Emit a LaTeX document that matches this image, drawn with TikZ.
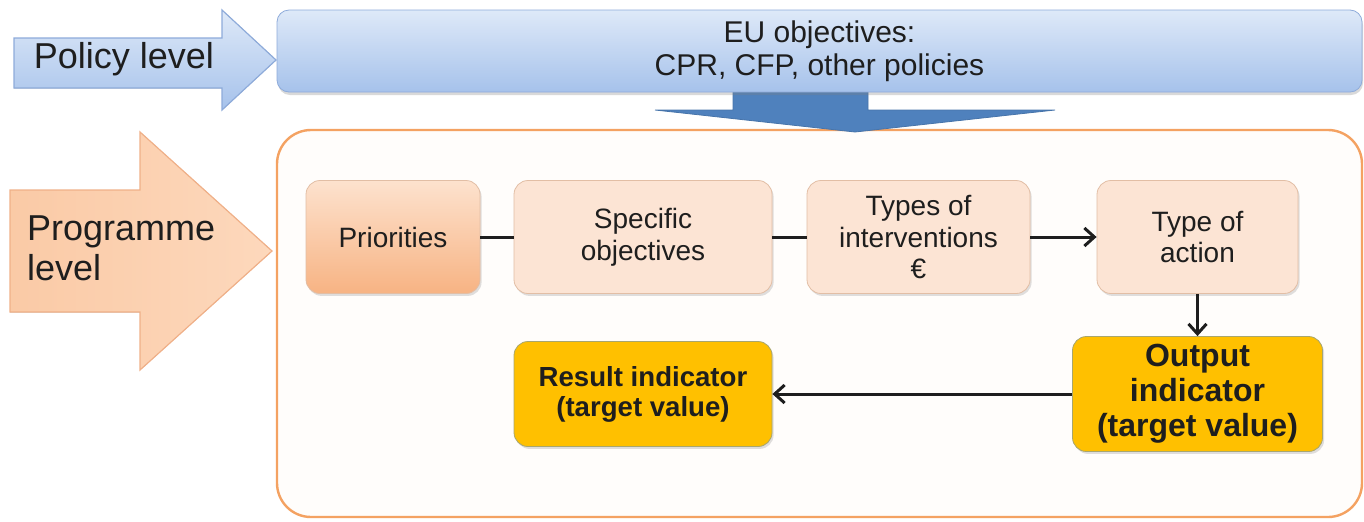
\documentclass[tikz,border=0pt]{standalone}
\usepackage{fontspec}
\setmainfont{Liberation Sans}
\usepackage{tikz}
\usetikzlibrary{arrows.meta, shadows}
\definecolor{PolicyLight}{HTML}{DEE9F8}
\definecolor{PolicyBlue}{HTML}{A6C2EB}
\definecolor{PolicyEdge}{HTML}{8EABDA}
\definecolor{DownBlue}{HTML}{4F81BD}
\definecolor{PeachLight}{HTML}{FDD8BC}
\definecolor{PeachFill}{HTML}{FACAA6}
\definecolor{PeachEdge}{HTML}{F0B088}
\definecolor{FrameOrange}{HTML}{F4A262}
\definecolor{FrameFill}{HTML}{FFFDFB}
\definecolor{BoxPeach}{HTML}{FCE4D4}
\definecolor{BoxEdge}{HTML}{E2BEA5}
\definecolor{PrioTop}{HTML}{FDE2CE}
\definecolor{PrioBottom}{HTML}{F7B383}
\definecolor{GoldFill}{HTML}{FFC000}
\definecolor{GoldEdge}{HTML}{A8A66E}
\definecolor{InkDark}{HTML}{1E1E1E}
\tikzset{
  % Box styles
  levelbox/.style={rectangle, rounded corners=6pt, draw=PolicyEdge, top color=PolicyLight, bottom color=PolicyBlue, text=InkDark, align=center, font=\fontsize{15}{16.5}\selectfont, drop shadow={shadow xshift=0.5pt, shadow yshift=-1.5pt, opacity=0.3}},
  framebox/.style={rectangle, rounded corners=17pt, draw=FrameOrange, line width=1.2pt, fill=FrameFill},
  stepbox/.style={rectangle, rounded corners=7pt, draw=BoxEdge, fill=BoxPeach, text=InkDark, minimum height=56.5pt, font=\fontsize{14}{15.75}\selectfont, align=center, drop shadow={shadow xshift=0.8pt, shadow yshift=-1.2pt, opacity=0.25}},
  priobox/.style={stepbox, fill=none, top color=PrioTop, bottom color=PrioBottom},
  goldbox/.style={rectangle, rounded corners=7pt, draw=GoldEdge, fill=GoldFill, text=InkDark, align=center, font=\bfseries, drop shadow={shadow xshift=0.8pt, shadow yshift=-1.2pt, opacity=0.25}},
  % Arrow styles
  link/.style={line width=1.5pt, InkDark},
  linkarrow/.style={link, -{Straight Barb[length=5pt, width=9pt, line width=1.5pt]}},
  bigarrow/.style={draw=PeachEdge, left color=PeachFill, right color=PeachLight, line width=0.6pt},
  % Label styles
  levellabel/.style={text=InkDark, font=\fontsize{18}{20}\selectfont, align=left}
}
\begin{document}
\begin{tikzpicture}[x=0.5pt, y=-0.5pt]
  \useasboundingbox (0,0) rectangle (1364,521);
  % Programme frame
  \node[framebox, minimum width=542.5pt, minimum height=193.5pt] (frame) at (819.5,323.5) {};
  % Downward arrow
  \filldraw[fill=DownBlue, draw=DownBlue!90!black, line width=0.4pt] (733,92) -- (868,92) -- (868,110) -- (1055,110) -- (855,132) -- (655,110) -- (733,110) -- cycle;
  % Policy level
  \node[levelbox, minimum width=542.5pt, minimum height=41pt] (eu) at (819.5,51) {EU objectives:\\CPR, CFP, other policies};
  \filldraw[draw=PolicyEdge, top color=PolicyLight, bottom color=PolicyBlue, line width=0.6pt] (14,38) -- (222,38) -- (222,10) -- (276,60) -- (222,110) -- (222,88) -- (14,88) -- cycle;
  \node[levellabel] (policy) at (124,59) {Policy level};
  % Programme level
  \filldraw[bigarrow] (10,190) -- (140,190) -- (140,132) -- (272,251) -- (140,370) -- (140,312) -- (10,312) -- cycle;
  \node[levellabel, anchor=west] (programme) at (20,248) {Programme\\level};
  % Steps
  \node[priobox, minimum width=87pt] (prio) at (393,237) {Priorities};
  \node[stepbox, minimum width=129pt] (spec) at (643,237) {Specific\\objectives};
  \node[stepbox, minimum width=111.5pt] (types) at (918.5,237) {Types of\\interventions\\€};
  \node[stepbox, minimum width=100.5pt] (action) at (1197.5,237) {Type of\\action};
  % Indicators
  \node[goldbox, minimum width=125pt, minimum height=57.5pt, font=\bfseries\fontsize{16}{17.5}\selectfont] (output) at (1197.5,394) {Output\\indicator\\(target value)};
  \node[goldbox, minimum width=129pt, minimum height=52.5pt, font=\bfseries\fontsize{13.8}{15}\selectfont] (result) at (643,394) {Result indicator\\(target value)};
  % Connectors
  \draw[link] (prio) -- (spec);
  \draw[link] (spec) -- (types);
  \draw[linkarrow] (types) -- (action);
  \draw[linkarrow] (action) -- (output);
  \draw[linkarrow] (output) -- (result);
\end{tikzpicture}
\end{document}
